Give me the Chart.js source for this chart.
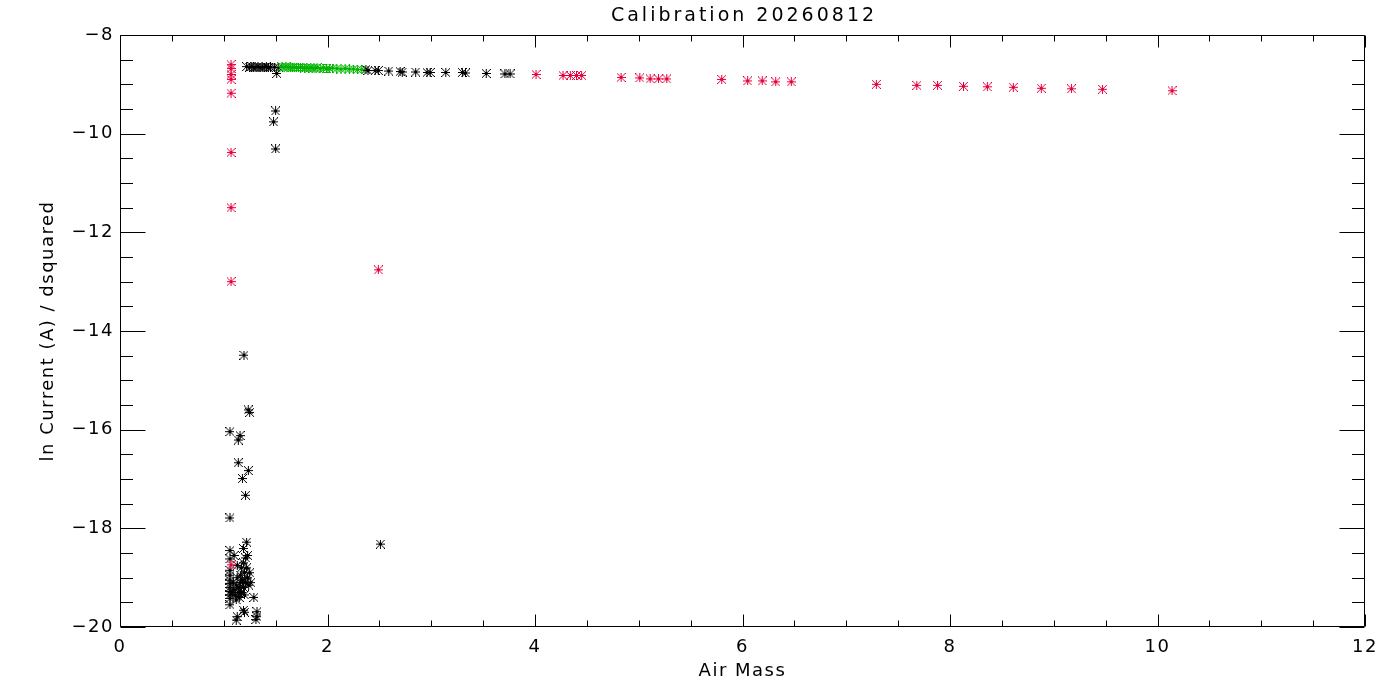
<!DOCTYPE html>
<html><head><meta charset="utf-8">
<script src="https://cdn.jsdelivr.net/npm/chart.js@4.4.1/dist/chart.umd.min.js"></script>
<style>html,body{margin:0;padding:0;background:#fff;overflow:hidden}</style>
</head><body>
<canvas id="c" width="1400" height="700" style="width:1400px;height:700px;display:block"></canvas>
<script>
const chartTitle = 'Calibration 20260812';
const xAxisTitle = 'Air Mass';
const yAxisTitle = 'ln Current (A) / dsquared';
const xTickValues = [0, 2, 4, 6, 8, 10, 12];
const yTickValues = [-20, -18, -16, -14, -12, -10, -8];

// black series
const blackX = [1.22,1.25,1.27,1.29,1.31,1.33,1.35,1.37,1.39,1.41,1.43,1.45,1.49,1.51,1.53,
  1.50,1.48,1.50,
  2.37,2.39,2.46,2.49,2.59,2.70,2.72,2.85,2.96,2.99,3.14,3.30,3.33,3.53,3.71,3.76,
  1.195,1.236,1.25,1.06,1.157,1.14,1.14,1.237,1.18,1.21,1.06,1.22,1.19,1.06,2.51,
  1.06,1.06,1.06,1.06,1.06,1.06,1.06,1.06,1.06,1.06,
  1.08,1.09,1.10,1.11,1.12,1.12,1.13,1.14,1.15,1.15,1.16,1.16,1.17,1.17,1.18,1.19,1.19,1.20,1.20,1.21,1.21,1.22,1.23,1.23,1.24,1.25,1.26,1.13,1.10,
  1.29,1.19,1.20,1.13,1.12,1.32,1.32,1.31];
const blackY = [-8.64,-8.65,-8.64,-8.66,-8.65,-8.64,-8.66,-8.65,-8.65,-8.64,-8.66,-8.65,-8.65,-8.78,-8.66,
  -9.54,-9.76,-10.31,
  -8.70,-8.72,-8.72,-8.72,-8.73,-8.74,-8.75,-8.75,-8.76,-8.76,-8.76,-8.76,-8.77,-8.78,-8.79,-8.79,
  -14.49,-15.60,-15.65,-16.04,-16.12,-16.21,-16.67,-16.83,-16.99,-17.33,-17.79,-18.28,-18.41,-18.45,-18.32,
  -18.62,-18.85,-18.95,-19.05,-19.12,-19.20,-19.28,-19.35,-19.42,-19.55,
  -19.30,-19.10,-19.25,-19.35,-19.45,-19.15,-19.00,-19.30,-19.40,-19.20,-18.95,-19.10,-19.30,-18.80,-19.05,-18.70,-19.20,-18.90,-19.35,-18.60,-19.10,-18.80,-19.00,-18.55,-19.15,-18.90,-19.10,-18.75,-18.55,
  -19.40,-19.66,-19.70,-19.79,-19.86,-19.69,-19.79,-19.85];

// green series
const greenX = [1.56,1.58,1.60,1.62,1.64,1.66,1.68,1.70,1.72,1.74,1.76,1.78,1.80,1.82,1.84,1.86,1.88,1.90,1.93,1.96,1.99,2.02,2.05,2.09,2.13,2.17,2.21,2.25,2.29,2.33];
const greenY = [-8.64,-8.65,-8.64,-8.65,-8.65,-8.66,-8.65,-8.66,-8.66,-8.65,-8.66,-8.67,-8.66,-8.67,-8.66,-8.67,-8.67,-8.66,-8.68,-8.67,-8.68,-8.68,-8.67,-8.68,-8.69,-8.68,-8.69,-8.69,-8.70,-8.70];

// red series
const redX = [1.07,1.07,1.07,1.07,1.07,1.07,1.07,1.07,1.07,2.49,
  4.01,4.27,4.34,4.40,4.45,4.83,5.01,5.11,5.19,5.27,5.80,6.05,6.19,6.32,6.47,7.29,7.68,7.88,8.13,8.36,8.61,8.88,9.17,9.47,10.14];
const redY = [-8.60,-8.68,-8.80,-8.90,-9.18,-10.38,-11.50,-13.00,-18.74,-12.76,
  -8.80,-8.82,-8.82,-8.82,-8.82,-8.86,-8.87,-8.89,-8.89,-8.89,-8.90,-8.93,-8.93,-8.95,-8.95,-9.00,-9.02,-9.02,-9.04,-9.05,-9.06,-9.08,-9.09,-9.10,-9.13];

function pts(xs, ys) { return xs.map((x, i) => ({x: x, y: ys[i]})); }

function makeStar(color) {
  const n = 9, c = document.createElement('canvas');
  c.width = n; c.height = n;
  const g = c.getContext('2d');
  g.fillStyle = color;
  const m = (n - 1) / 2;
  for (let i = 0; i < n; i++) {
    g.fillRect(i, m, 1, 1); g.fillRect(m, i, 1, 1);
    g.fillRect(i, i, 1, 1); g.fillRect(n - 1 - i, i, 1, 1);
  }
  g.fillRect(m - 1, m - 1, 3, 3);
  return c;
}

const FAMILY = "'DejaVu Sans', sans-serif";
const FONT = {family: FAMILY, size: 18, weight: 'normal'};
const LS = '1.5px';

const framePlugin = {
  id: 'frame',
  beforeUpdate(chart) { chart.ctx.letterSpacing = LS; },
  beforeLayout(chart) { chart.ctx.letterSpacing = LS; },
  beforeDraw(chart) {
    const ctx = chart.ctx;
    ctx.letterSpacing = LS;
    ctx.save(); ctx.fillStyle = '#fff'; ctx.fillRect(0, 0, chart.width, chart.height); ctx.restore();
  },
  afterDatasetsDraw(chart) {
    const {ctx, chartArea: a, scales: {x, y}} = chart;
    ctx.save();
    ctx.strokeStyle = '#000'; ctx.lineWidth = 1;
    const L = Math.round(a.left) + 0.5, R = Math.round(a.right) - 0.5;
    const T = Math.round(a.top) + 0.5, B = Math.round(a.bottom) - 0.5;
    ctx.beginPath();
    ctx.rect(L, T, R - L, B - T);
    const stepMinor = 0.5;
    for (let k = 0; x.min + k * stepMinor <= x.max + 1e-9; k++) {
      const v = x.min + k * stepMinor;
      const px = Math.round(x.getPixelForValue(v)) + 0.5;
      const len = xTickValues.includes(v) ? 12 : 6;
      ctx.moveTo(px, B); ctx.lineTo(px, B - len);
      ctx.moveTo(px, T); ctx.lineTo(px, T + len);
    }
    for (let k = 0; y.min + k * stepMinor <= y.max + 1e-9; k++) {
      const v = y.min + k * stepMinor;
      const py = Math.round(y.getPixelForValue(v)) + 0.5;
      const len = yTickValues.includes(v) ? 25 : 12.5;
      ctx.moveTo(L, py); ctx.lineTo(L + len, py);
      ctx.moveTo(R, py); ctx.lineTo(R - len, py);
    }
    ctx.stroke();
    // main title, centred over the plot area
    ctx.letterSpacing = '3px';
    ctx.font = "normal 19px " + FAMILY;
    ctx.fillStyle = '#000';
    ctx.textAlign = 'center';
    ctx.textBaseline = 'alphabetic';
    ctx.fillText(chartTitle, (a.left + a.right) / 2 + 1.5, 21);
    ctx.restore();
  }
};

const fmt = v => String(v).replace('-', '\u2212');

new Chart(document.getElementById('c'), {
  type: 'scatter',
  data: {
    datasets: [
      {label: 'red', data: pts(redX, redY), pointStyle: makeStar('rgb(230,0,60)'), order: 0},
      {label: 'green', data: pts(greenX, greenY), pointStyle: makeStar('rgb(0,180,0)'), order: 1},
      {label: 'black', data: pts(blackX, blackY), pointStyle: makeStar('rgb(0,0,0)'), order: 2}
    ]
  },
  options: {
    responsive: false,
    devicePixelRatio: 1,
    animation: false,
    events: [],
    layout: {padding: {top: 35, right: 35, bottom: 0, left: 0}},
    plugins: {
      legend: {display: false},
      tooltip: {enabled: false},
      title: {display: false}
    },
    scales: {
      x: {
        type: 'linear', min: 0, max: 12,
        afterBuildTicks: s => { s.ticks = xTickValues.map(v => ({value: v})); },
        afterFit: s => { s.height = 73; },
        grid: {display: false, drawTicks: false},
        border: {display: false},
        ticks: {color: '#000', font: FONT, padding: 10, maxRotation: 0, callback: fmt},
        title: {display: true, text: xAxisTitle, color: '#000', font: FONT, padding: {top: 0, bottom: 18}}
      },
      y: {
        type: 'linear', min: -20, max: -8,
        afterBuildTicks: s => { s.ticks = yTickValues.map(v => ({value: v})); },
        afterFit: s => { s.width = 120; },
        grid: {display: false, drawTicks: false},
        border: {display: false},
        ticks: {color: '#000', font: FONT, padding: 6, callback: fmt},
        title: {display: true, text: yAxisTitle, color: '#000', font: FONT, padding: {top: 38, bottom: 0}}
      }
    }
  },
  plugins: [framePlugin]
});
</script>
</body></html>
